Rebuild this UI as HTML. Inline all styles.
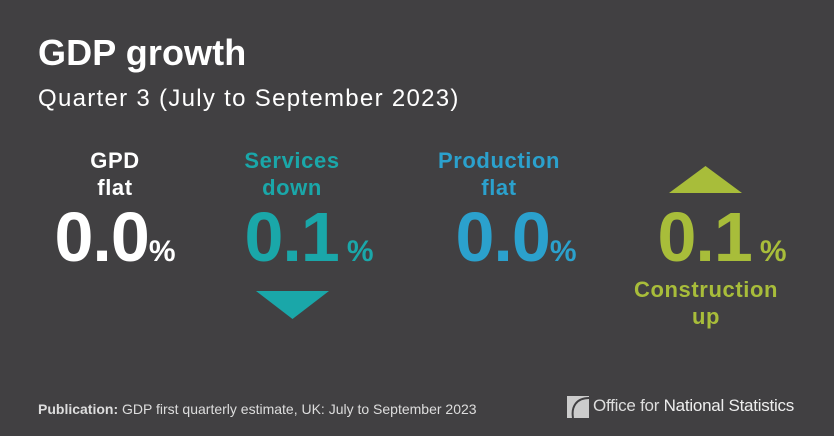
<!DOCTYPE html>
<html><head><style>
body{margin:0;width:834px;height:436px;background:#414042;font-family:"Liberation Sans",sans-serif;position:relative;overflow:hidden;color:#fff}
.a{position:absolute}
.t{left:38px;top:32px;font-size:36px;font-weight:bold;letter-spacing:0.1px}
.s{left:38px;top:85px;font-size:24px;letter-spacing:1.3px}
.col{position:absolute;width:200px;text-align:center;font-weight:bold}
.lab{font-size:22px;line-height:27px;letter-spacing:0.6px}
.num{font-size:70px;line-height:70px;letter-spacing:-1px}
.num span{font-size:30px;letter-spacing:0}
.foot{left:38px;top:401px;font-size:14px;color:#ddd;letter-spacing:0px}
</style></head><body>
<div class="a t">GDP growth</div>
<div class="a s">Quarter 3 (July to September 2023)</div>

<div class="col lab" style="left:15px;top:147px">GPD<br>flat</div>
<div class="col num" style="left:15px;top:202px">0.0<span>%</span></div>

<div class="col lab" style="left:192px;top:147px;color:#1aa7a9">Services<br>down</div>
<div class="col num" style="left:209px;top:202px;color:#1aa7a9">0.1<span style="margin-left:8px">%</span></div>
<svg class="a" style="left:256px;top:291px" width="74" height="28"><polygon points="0,0 73,0 36.5,28" fill="#1aa7a9"/></svg>

<div class="col lab" style="left:399px;top:147px;color:#2ba1cd">Production<br>flat</div>
<div class="col num" style="left:416px;top:202px;color:#2ba1cd">0.0<span>%</span></div>

<svg class="a" style="left:669px;top:166px" width="74" height="27"><polygon points="0,27 73,27 36.5,0" fill="#a8bd3a"/></svg>
<div class="col num" style="left:622px;top:202px;color:#a8bd3a">0.1<span style="margin-left:8px">%</span></div>
<div class="col lab" style="left:606px;top:276px;color:#a8bd3a">Construction<br>up</div>

<div class="a foot"><b>Publication:</b> GDP first quarterly estimate, UK: July to September 2023</div>
<svg class="a" style="left:567px;top:396px" width="22" height="22"><rect x="0" y="0" width="22" height="22" fill="#ccc"/><path d="M22,2 C10,2 4,10 6,22" stroke="#414042" stroke-width="2" fill="none"/></svg>
<div class="a" style="left:593px;top:396px;font-size:17px;color:#ddd;letter-spacing:-0.25px">Office for <span style="color:#eee">National Statistics</span></div>
</body></html>
